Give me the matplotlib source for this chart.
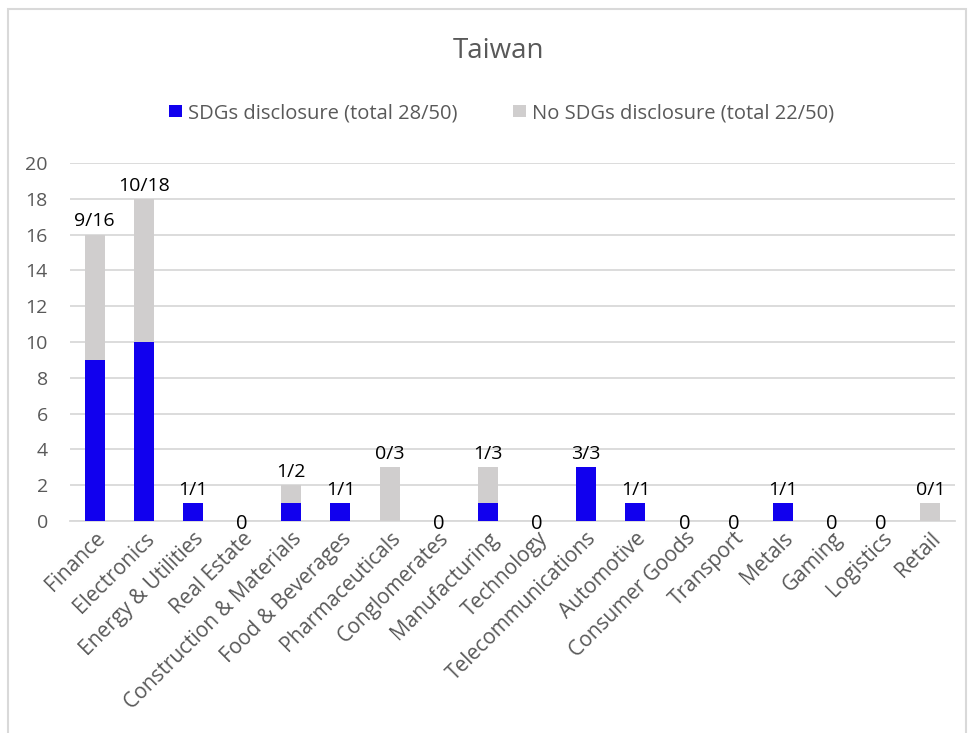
import matplotlib.pyplot as plt
import numpy as np
from matplotlib.patches import Rectangle

plt.rcParams['font.family'] = ['Open Sans', 'DejaVu Sans']

sectors = ["Finance", "Electronics", "Energy & Utilities", "Real Estate",
           "Construction & Materials", "Food & Beverages", "Pharmaceuticals",
           "Conglomerates", "Manufacturing", "Technology", "Telecommunications",
           "Automotive", "Consumer Goods", "Transport", "Metals", "Gaming",
           "Logistics", "Retail"]
sdgs = [9, 10, 1, 0, 1, 1, 0, 0, 1, 0, 3, 1, 0, 0, 1, 0, 0, 0]
no_sdgs = [7, 8, 0, 0, 1, 0, 3, 0, 2, 0, 0, 0, 0, 0, 0, 0, 0, 1]
legend_labels = ["SDGs disclosure (total 28/50)", "No SDGs disclosure (total 22/50)"]

blue = '#1100EE'
grey = '#D0CECE'
text_grey = '#595959'

fig = plt.figure(figsize=(9.74, 7.33), dpi=100)
# plot area: x 70..955 px, y 163..521 px
ax = fig.add_axes([70 / 974, 1 - 521 / 733, 885 / 974, 358 / 733])

x = np.arange(len(sectors))
sdgs = np.array(sdgs)
no_sdgs = np.array(no_sdgs)
total = sdgs + no_sdgs
w = 0.41
ax.bar(x, sdgs, w, color=blue, label=legend_labels[0], zorder=3)
ax.bar(x, no_sdgs, w, bottom=sdgs, color=grey, label=legend_labels[1], zorder=3)

# data labels above each stack
for xi, s, t in zip(x, sdgs, total):
    if t == 0:
        ax.annotate("0", (xi, 0), xytext=(0, -2), textcoords='offset points',
                    ha='center', va='center', fontsize=14.5, color='black', zorder=4)
    else:
        ax.annotate(f"{s}/{t}", (xi, t), xytext=(0, 3), textcoords='offset points',
                    ha='center', va='bottom', fontsize=14, color='black', zorder=4)

ax.set_xlim(-0.5, len(sectors) - 0.5)
ax.set_ylim(0, 20)
ax.set_yticks(range(0, 21, 2))
ax.grid(axis='y', color='#D9D9D9', linewidth=1.3, zorder=0)
ax.set_axisbelow(True)
for sp in ['top', 'right', 'left']:
    ax.spines[sp].set_visible(False)
ax.spines['bottom'].set_color('#D9D9D9')
ax.spines['bottom'].set_linewidth(1.3)
ax.tick_params(axis='both', length=0, labelsize=14, colors=text_grey)
ax.tick_params(axis='x', labelsize=15, pad=5)
ax.tick_params(axis='y', pad=16)
ax.set_xticks(x)
ax.set_xticklabels(sectors, rotation=45, ha='right', rotation_mode='anchor')

fig.text(0.512, 1 - 51 / 733, "Taiwan", ha='center', va='center', fontsize=20, color=text_grey)
fig.legend(loc='center', bbox_to_anchor=(0.515, 1 - 113 / 733), ncol=2, frameon=False,
           fontsize=14.5, handlelength=0.6, handleheight=0.6, columnspacing=2.8,
           handletextpad=0.3, labelcolor=text_grey)

fig.patches.append(Rectangle((8 / 974, -0.05), 958 / 974, 1.05 - 9 / 733,
                             transform=fig.transFigure, fill=False,
                             edgecolor='#D9D9D9', linewidth=1.5))

fig.savefig('out.png', dpi=100)
